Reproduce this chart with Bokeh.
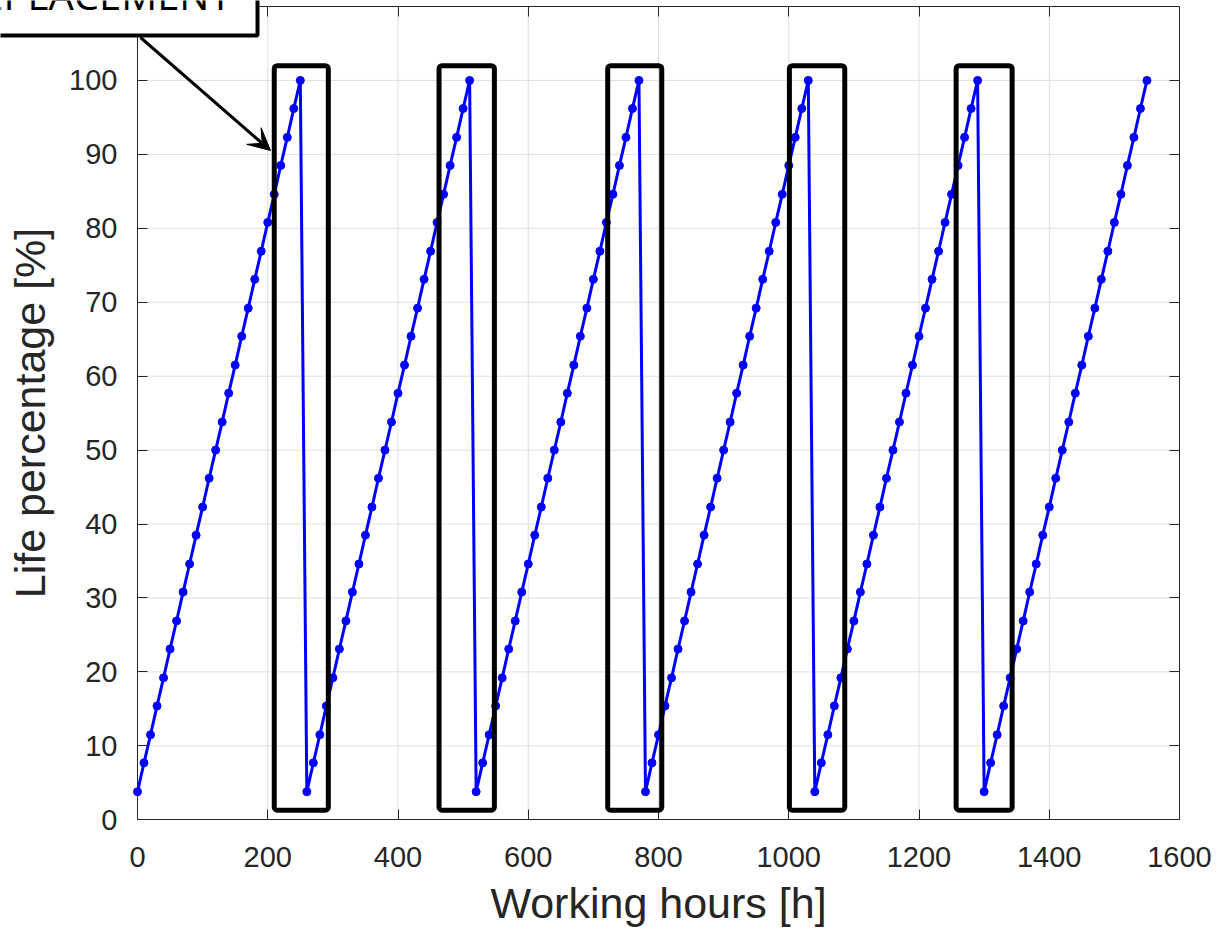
from bokeh.plotting import figure
from bokeh.models import (BoxAnnotation, Label, Arrow, VeeHead, LinearAxis,
                          Range1d, FixedTicker)
from bokeh.embed import file_html
from bokeh.resources import INLINE

# ---------------- data ----------------
working_hours = [
    0, 10, 20, 30, 40, 50, 60, 70, 80, 90, 100, 110, 120, 130, 140, 150, 160,
    170, 180, 190, 200, 210, 220, 230, 240, 250,
    260, 270, 280, 290, 300, 310, 320, 330, 340, 350, 360, 370, 380, 390, 400,
    410, 420, 430, 440, 450, 460, 470, 480, 490, 500, 510,
    520, 530, 540, 550, 560, 570, 580, 590, 600, 610, 620, 630, 640, 650, 660,
    670, 680, 690, 700, 710, 720, 730, 740, 750, 760, 770,
    780, 790, 800, 810, 820, 830, 840, 850, 860, 870, 880, 890, 900, 910, 920,
    930, 940, 950, 960, 970, 980, 990, 1000, 1010, 1020, 1030,
    1040, 1050, 1060, 1070, 1080, 1090, 1100, 1110, 1120, 1130, 1140, 1150,
    1160, 1170, 1180, 1190, 1200, 1210, 1220, 1230, 1240, 1250, 1260, 1270,
    1280, 1290,
    1300, 1310, 1320, 1330, 1340, 1350, 1360, 1370, 1380, 1390, 1400, 1410,
    1420, 1430, 1440, 1450, 1460, 1470, 1480, 1490, 1500, 1510, 1520, 1530,
    1540, 1550,
]
life_percentage = [
    3.8, 7.7, 11.5, 15.4, 19.2, 23.1, 26.9, 30.8, 34.6, 38.5, 42.3, 46.2, 50.0,
    53.8, 57.7, 61.5, 65.4, 69.2, 73.1, 76.9, 80.8, 84.6, 88.5, 92.3, 96.2, 100.0,
    3.8, 7.7, 11.5, 15.4, 19.2, 23.1, 26.9, 30.8, 34.6, 38.5, 42.3, 46.2, 50.0,
    53.8, 57.7, 61.5, 65.4, 69.2, 73.1, 76.9, 80.8, 84.6, 88.5, 92.3, 96.2, 100.0,
    3.8, 7.7, 11.5, 15.4, 19.2, 23.1, 26.9, 30.8, 34.6, 38.5, 42.3, 46.2, 50.0,
    53.8, 57.7, 61.5, 65.4, 69.2, 73.1, 76.9, 80.8, 84.6, 88.5, 92.3, 96.2, 100.0,
    3.8, 7.7, 11.5, 15.4, 19.2, 23.1, 26.9, 30.8, 34.6, 38.5, 42.3, 46.2, 50.0,
    53.8, 57.7, 61.5, 65.4, 69.2, 73.1, 76.9, 80.8, 84.6, 88.5, 92.3, 96.2, 100.0,
    3.8, 7.7, 11.5, 15.4, 19.2, 23.1, 26.9, 30.8, 34.6, 38.5, 42.3, 46.2, 50.0,
    53.8, 57.7, 61.5, 65.4, 69.2, 73.1, 76.9, 80.8, 84.6, 88.5, 92.3, 96.2, 100.0,
    3.8, 7.7, 11.5, 15.4, 19.2, 23.1, 26.9, 30.8, 34.6, 38.5, 42.3, 46.2, 50.0,
    53.8, 57.7, 61.5, 65.4, 69.2, 73.1, 76.9, 80.8, 84.6, 88.5, 92.3, 96.2, 100.0,
]
x_ticks = [0, 200, 400, 600, 800, 1000, 1200, 1400, 1600]
y_ticks = [0, 10, 20, 30, 40, 50, 60, 70, 80, 90, 100]
x_limits = (0, 1600)
y_limits = (0, 110)

# replacement windows (hours)
window_start = [210, 463, 722, 1001, 1257]
window_end = [293, 548, 805, 1086, 1343]
window_low = 1.3
window_high = 102.0
annotation_text = "REPLACEMENT"

# ---------------- layout (pixels) ----------------
W, H = 1217, 934
BOX_L, BOX_R, BOX_T, BOX_B = 137, 1179, 6, 819.3
kx = (BOX_R - BOX_L) / (x_limits[1] - x_limits[0])
ky = (BOX_B - BOX_T) / (y_limits[1] - y_limits[0])


def dx(px):
    return x_limits[0] + (px - BOX_L) / kx


def dy(py):
    return y_limits[0] + (BOX_B - py) / ky


AX = "#262626"
FONT = "Liberation Sans"

# the frame covers the whole canvas so that the call-out box is not clipped;
# the axes are pinned to the plot box with fixed_location
p = figure(width=W, height=H,
           x_range=Range1d(dx(0), dx(W)), y_range=Range1d(dy(H), dy(0)),
           output_backend="svg", toolbar_location=None, min_border=0,
           background_fill_color="white", border_fill_color="white",
           outline_line_color=None)
p.xgrid.visible = False
p.ygrid.visible = False

p.xaxis.ticker = FixedTicker(ticks=x_ticks)
p.yaxis.ticker = FixedTicker(ticks=y_ticks)
p.xaxis.axis_label = "Working hours [h]"
p.yaxis.axis_label = "Life percentage [%]"
p.xaxis.fixed_location = y_limits[0]
p.yaxis.fixed_location = x_limits[0]
p.xaxis.bounds = x_limits
p.yaxis.bounds = y_limits

for ax in (p.xaxis[0], p.yaxis[0]):
    ax.major_tick_in = 10
    ax.major_tick_out = 0
    ax.minor_tick_line_color = None
    ax.axis_line_color = AX
    ax.major_tick_line_color = AX
    ax.major_label_text_font = FONT
    ax.major_label_text_font_size = "29px"
    ax.major_label_text_color = AX
    ax.axis_label_text_font = FONT
    ax.axis_label_text_font_size = "43px"
    ax.axis_label_text_font_style = "normal"
    ax.axis_label_text_color = AX

p.xaxis.major_label_standoff = 27
p.yaxis.major_label_standoff = 20
p.xaxis.axis_label_standoff = 9
p.yaxis.axis_label_standoff = 12

for loc, tk, fl, bd in (("above", x_ticks, y_limits[1], x_limits),
                        ("right", y_ticks, x_limits[1], y_limits)):
    ax = LinearAxis(ticker=FixedTicker(ticks=tk), fixed_location=fl,
                    bounds=bd, major_label_text_font_size="1px",
                    major_label_text_color=None, major_label_standoff=0,
                    major_tick_in=10, major_tick_out=0,
                    minor_tick_line_color=None,
                    axis_line_color=AX, major_tick_line_color=AX)
    p.add_layout(ax, loc)

# grid lines restricted to the plot box
GRID = "#dfdfdf"
gx = [t for t in x_ticks if x_limits[0] < t < x_limits[1]]
gy = [t for t in y_ticks if y_limits[0] < t < y_limits[1]]
p.segment(x0=gx, x1=gx, y0=[y_limits[0]] * len(gx), y1=[y_limits[1]] * len(gx),
          line_color=GRID, line_width=1, level="underlay")
p.segment(x0=[x_limits[0]] * len(gy), x1=[x_limits[1]] * len(gy), y0=gy, y1=gy,
          line_color=GRID, line_width=1, level="underlay")

BLUE = "#0000ff"
p.line(working_hours, life_percentage, line_color=BLUE, line_width=3)
p.scatter(working_hours, life_percentage, size=8, fill_color=BLUE,
          line_color=BLUE)

for s, e in zip(window_start, window_end):
    p.add_layout(BoxAnnotation(left=s, right=e, bottom=window_low,
                               top=window_high, fill_color=None,
                               fill_alpha=0, line_color="black",
                               line_alpha=1.0, line_width=5,
                               border_radius=3))

p.add_layout(Arrow(x_start=dx(140), y_start=dy(37), x_end=dx(270),
                   y_end=dy(150), line_color="black", line_width=3,
                   end=VeeHead(size=22, fill_color="black",
                               line_color="black")))

# call-out box, partly outside the picture as in the reference
p.add_layout(BoxAnnotation(left=dx(-60), right=dx(257), bottom=dy(35),
                           top=dy(-60), fill_color="white", fill_alpha=1.0,
                           line_color="black", line_alpha=1.0, line_width=4))
p.add_layout(Label(x=dx(231), y=dy(-6), text=annotation_text,
                   text_align="right", text_baseline="alphabetic",
                   text_font="Open Sans", text_font_size="40px",
                   text_color="black"))

open("out.html", "w").write(file_html(p, INLINE))
